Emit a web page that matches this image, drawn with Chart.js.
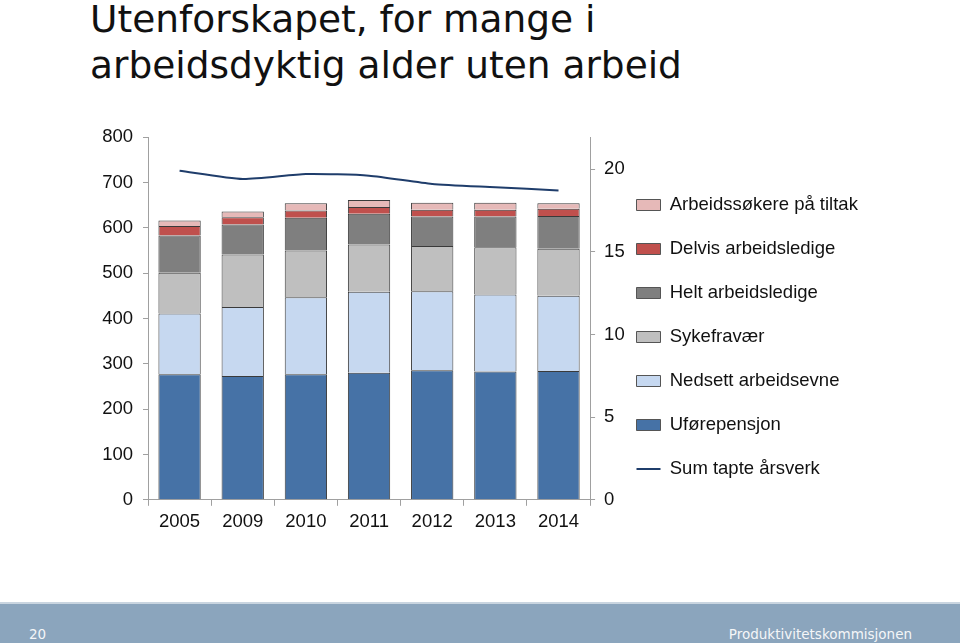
<!DOCTYPE html>
<html>
<head>
<meta charset="utf-8">
<script src="https://cdn.jsdelivr.net/npm/chart.js@4"></script>
<style>
  body { margin: 0; width: 960px; height: 643px; background: #fff; position: relative; overflow: hidden; }
  #title { position: absolute; left: 90px; top: -4px; font-family: "DejaVu Sans", sans-serif; font-size: 37.5px; line-height: 46px; color: #111; }
  #wrap { position: absolute; left: 0; top: 116px; width: 960px; height: 444px; }
  #footer { position: absolute; left: 0; top: 602px; width: 960px; height: 41px; background: #8ba5bd; border-top: 2px solid #c9d5e0; box-sizing: border-box; font-family: "DejaVu Sans", sans-serif; font-size: 13.5px; color: #f4f6f8; }
  #footer .l { position: absolute; left: 29px; top: 22px; }
  #footer .r { position: absolute; right: 48px; top: 22px; }
</style>
</head>
<body>
<div id="title">Utenforskapet, for mange i<br>arbeidsdyktig alder uten arbeid</div>
<div id="wrap"><canvas id="myChart"></canvas></div>
<div id="footer"><span class="l">20</span><span class="r">Produktivitetskommisjonen</span></div>
<script>
  const years = ['2005', '2009', '2010', '2011', '2012', '2013', '2014'];
  const uforepensjon = [277, 273, 277, 280, 286, 283, 284];
  const nedsett = [134, 152, 170, 179, 174, 170, 166];
  const sykefravaer = [90, 116, 103, 104, 100, 104, 104];
  const helt = [82, 66, 72, 68, 65, 68, 72];
  const delvis = [21, 16, 16, 15, 15, 15, 16];
  const tiltak = [12, 13, 16, 15, 15, 15, 12];
  const sumArsverk = [19.9, 19.4, 19.7, 19.6, 19.1, 18.9, 18.7];

  Chart.defaults.font.family = '"Liberation Sans", Arial, sans-serif';
  Chart.defaults.font.size = 18.5;
  Chart.defaults.color = '#111';

  const ctx = document.getElementById('myChart');

  function bar(label, values, color) {
    return {
      type: 'bar',
      label: label,
      data: values,
      backgroundColor: color,
      borderColor: '#3a3a3a',
      borderWidth: 1,
      yAxisID: 'y',
      barPercentage: 0.67,
      categoryPercentage: 1,
      order: 2
    };
  }

  // nudge the legend a bit closer to the right axis, like in the original
  const legendShift = {
    id: 'legendShift',
    afterLayout(chart) {
      const lg = chart.legend;
      const w = lg.width;
      lg.left = 611;
      lg.right = 611 + w;
      lg.top += 4;
      lg.bottom += 4;
    }
  };

  new Chart(ctx, {
    data: {
      labels: years,
      datasets: [
        bar('Uførepensjon', uforepensjon, '#4672a6'),
        bar('Nedsett arbeidsevne', nedsett, '#c6d8f0'),
        bar('Sykefravær', sykefravaer, '#bfbfbf'),
        bar('Helt arbeidsledige', helt, '#7f7f7f'),
        bar('Delvis arbeidsledige', delvis, '#c0504d'),
        bar('Arbeidssøkere på tiltak', tiltak, '#e6b9b8'),
        {
          type: 'line',
          label: 'Sum tapte årsverk',
          data: sumArsverk,
          borderColor: '#1f3d6b',
          backgroundColor: '#1f3d6b',
          borderWidth: 2,
          pointRadius: 0,
          tension: 0.2,
          yAxisID: 'y1',
          pointStyle: 'line',
          order: 1
        }
      ]
    },
    plugins: [legendShift],
    options: {
      responsive: true,
      maintainAspectRatio: false,
      animation: false,
      layout: { padding: { top: 12, bottom: 22, right: 75 } },
      plugins: {
        tooltip: { enabled: false },
        legend: {
          position: 'right',
          maxWidth: 400,
          labels: {
            usePointStyle: true,
            pointStyle: 'rect',
            pointStyleWidth: 24,
            boxHeight: 11,
            padding: 25.5,
            color: '#111',
            sort: (a, b) => {
              const k = i => i.datasetIndex === 6 ? 100 : -i.datasetIndex;
              return k(a) - k(b);
            },
            generateLabels: chart => {
              const items = Chart.defaults.plugins.legend.labels.generateLabels(chart);
              items.forEach(it => {
                if (it.datasetIndex === 6) {
                  it.pointStyle = 'line';
                } else {
                  it.pointStyle = 'rect';
                  it.strokeStyle = '#555';
                  it.lineWidth = 1;
                }
              });
              return items;
            }
          }
        }
      },
      scales: {
        x: {
          stacked: true,
          border: { color: '#a0a0a0' },
          grid: { drawOnChartArea: false, tickLength: 6, color: '#a0a0a0', offset: true },
          ticks: { padding: 5, color: '#111' }
        },
        y: {
          stacked: true,
          min: 0,
          max: 800,
          border: { color: '#a0a0a0' },
          grid: { drawOnChartArea: false, tickLength: 5, color: '#a0a0a0' },
          ticks: { stepSize: 100, padding: 10, color: '#111' },
          afterFit: s => { s.width = 148; }
        },
        y1: {
          position: 'right',
          min: 0,
          max: 21.93,
          border: { color: '#a0a0a0' },
          grid: { drawOnChartArea: false, tickLength: 5, color: '#a0a0a0' },
          ticks: { stepSize: 5, padding: 9, color: '#111' },
          afterBuildTicks: s => { s.ticks = s.ticks.filter(t => t.value % 5 === 0); },
          afterFit: s => { s.width = 38; }
        }
      }
    }
  });
</script>
</body>
</html>
